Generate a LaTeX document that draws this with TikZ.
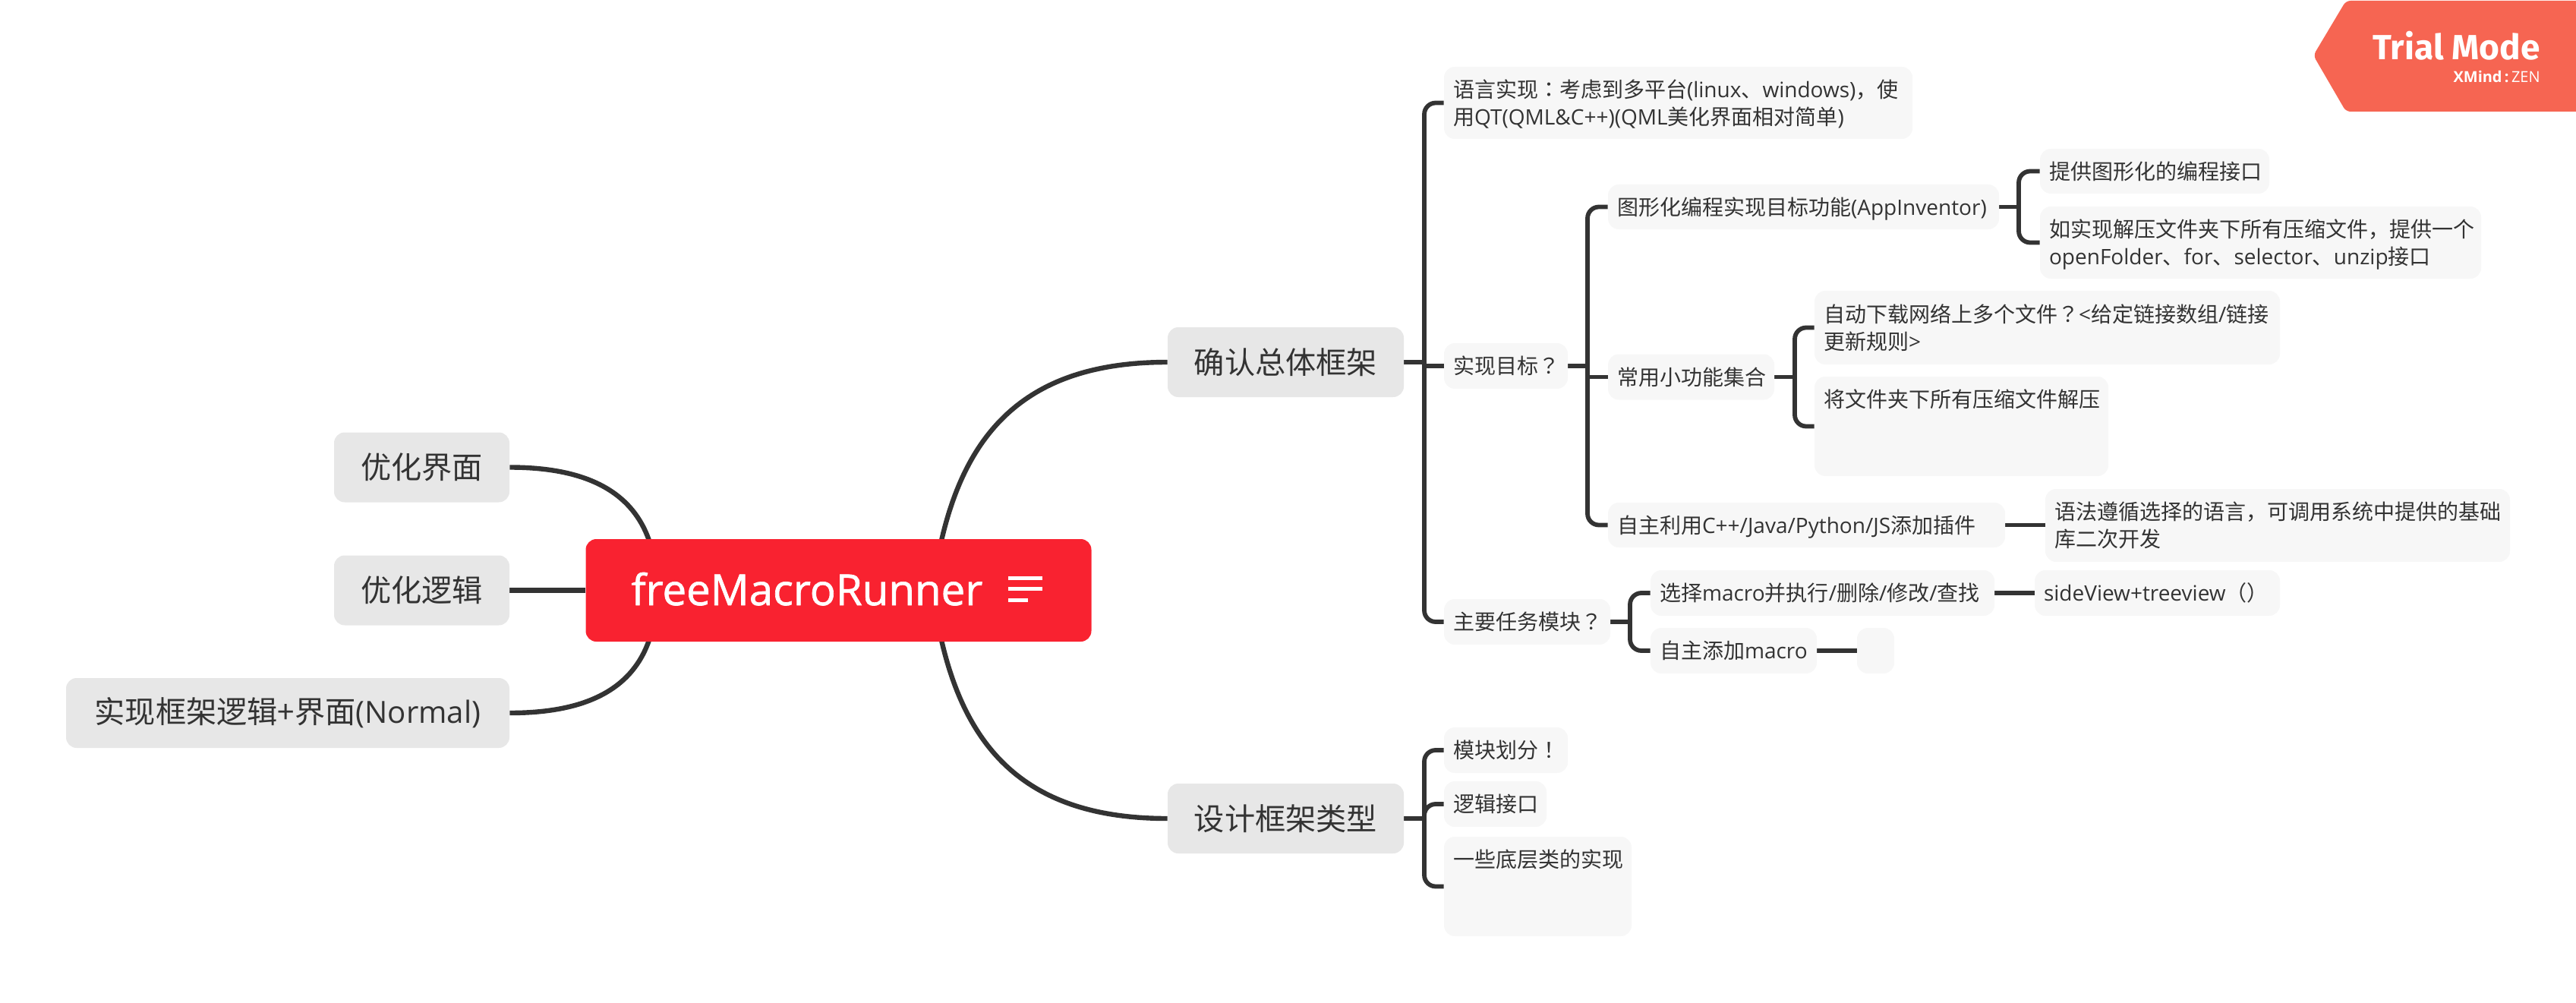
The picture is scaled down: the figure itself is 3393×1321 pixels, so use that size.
\documentclass[tikz,border=0pt]{standalone}
\usepackage{fontspec}
\usetikzlibrary{backgrounds}
\setmainfont{Noto Sans CJK SC}
\newfontfamily\la{Open Sans}
\newfontfamily\lam[FakeBold=1.2]{Open Sans}
\newfontfamily\tcf{Noto Sans CJK TC}
\newfontfamily\fira{Fira Sans}
\newcommand\lat[1]{{\la #1}}
\newcommand\tcp[1]{{\tcf #1}}
\newcommand\ts{\rule[-5.34pt]{0pt}{21.4pt}}
\definecolor{ink}{HTML}{333333}
\definecolor{subfill}{HTML}{F7F7F7}
\definecolor{topfill}{HTML}{E7E7E7}
\definecolor{redfill}{HTML}{F92230}
\definecolor{trialfill}{HTML}{F66552}
\hyphenpenalty=10000 \exhyphenpenalty=10000
\tikzset{
  subn/.style 2 args={fill=subfill,draw=none,rounded corners=7pt,inner sep=0pt,
    minimum width=#1*0.5pt,minimum height=#2*0.5pt,text width=#1*0.5pt-12pt,align=left,
    text=ink,font=\fontsize{14}{17.8}\selectfont},
  topn/.style 2 args={fill=topfill,draw=none,rounded corners=7pt,inner sep=0pt,
    minimum width=#1*0.5pt,minimum height=#2*0.5pt,text=ink,align=center,
    font=\fontsize{20.1}{24}\selectfont},
  cenn/.style={fill=redfill,draw=none,rounded corners=7pt,inner sep=0pt,
    minimum width=333pt,minimum height=67.5pt,text width=273pt,align=left,text=white,
    font=\lam\fontsize{28.2}{32}\selectfont},
  conn/.style={draw=ink,line width=2.9pt},
  curv/.style={draw=ink,line width=3.2pt},
  brk/.style={draw=ink,line width=2.9pt,rounded corners=7.5pt},
  bar/.style={fill=white,draw=none,inner sep=0pt,minimum height=2.3pt},
}
\begin{document}
\begin{tikzpicture}[x=0.5pt,y=-0.5pt]
\useasboundingbox (0,0) rectangle (3393,1321);
% central
\node[cenn] (c) at (1104.5,777.5) {\rule[-10pt]{0pt}{39.5pt}freeMacroRunner};
\node[bar,minimum width=22.5pt] (b1) at (1350,761.5) {};
\node[bar,minimum width=22.5pt] (b2) at (1350,775.5) {};
\node[bar,minimum width=13pt] (b3) at (1340.5,790.5) {};
% left topics
\node[topn={231}{92}] (l1) at (555.5,615.5) {优化界面};
\node[topn={231}{92}] (l2) at (555.5,777.5) {优化逻辑};
\node[topn={584}{92}] (l3) at (379,939) {实现框架逻辑+界面\lat{(Normal)}};
% right topics
\node[topn={311}{92}] (t1) at (1693.5,477) {确认总体框架};
\node[topn={311}{92}] (t2) at (1693.5,1078) {设计框架类型};
% subtopics
\node[subn={617}{95}] (a1) at (2210.5,135.5) {\ts 语言实现\tcp{：}考虑到多平台\lat{(linux}、\lat{windows)}，使\\用\lat{QT(QML\&C++)(QML}美化界面相对简单\lat{)}\strut};
\node[subn={163}{60}] (a2) at (1983.5,482) {\ts 实现目标\tcp{？}};
\node[subn={219}{60}] (a3) at (2011.5,819) {\ts 主要任务模块\tcp{？}};
\node[subn={515}{59}] (b1n) at (2375.5,272.5) {\ts 图形化编程实现目标功能\lat{(AppInventor)}};
\node[subn={219}{60}] (b2n) at (2227.5,496.5) {\ts 常用小功能集合};
\node[subn={523}{59}] (b3n) at (2379.5,691.5) {\ts 自主利用\lat{C++/Java/Python/JS}添加插件};
\node[subn={302}{59}] (d1) at (2838,225.5) {\ts 提供图形化的编程接口};
\node[subn={581}{95}] (d2) at (2977.5,319.5) {\ts 如实现解压文件夹下所有压缩文件，提供一个\\\lat{openFolder}、\lat{for}、\lat{selector}、\lat{unzip}接口\strut};
\node[subn={613}{97}] (e1) at (2696.5,431.5) {\ts 自动下载网络上多个文件\tcp{？}\lat{<}给定链接数组\lat{/}链接\\更新规则\lat{>}\strut};
\node[subn={387}{131}] (e2) at (2583.5,561.5) {\ts 将文件夹下所有压缩文件解压\\\strut\\\strut};
\node[subn={612}{96}] (f1) at (3000,692) {\ts 语法遵循选择的语言，可调用系统中提供的基础\\库二次开发\strut};
\node[subn={453}{60}] (g1) at (2400.5,781) {\ts 选择\lat{macro}并执行\lat{/}删除\lat{/}修改\lat{/}查找};
\node[subn={219}{60}] (g2) at (2283.5,857) {\ts 自主添加\lat{macro}};
\node[subn={323}{60}] (h1) at (2841.5,781) {\ts \lat{sideView+treeview}（）};
\node[subn={49}{60}] (h2) at (2470.5,857) {};
\node[subn={163}{60}] (k1) at (1983.5,988) {\ts 模块划分\tcp{！}};
\node[subn={135}{60}] (k2) at (1969.5,1059) {\ts 逻辑接口};
\node[subn={247}{131}] (k3) at (2025.5,1167.5) {\ts 一些底层类的实现\\\strut\\\strut};
% trial badge
\fill[trialfill,rounded corners=3pt] (3047,73) -- (3090,1) -- (3400,1) -- (3400,147) -- (3090,147) -- cycle;
\node[anchor=base east,inner sep=0pt,text=white,font=\fira\bfseries\fontsize{23}{30}\selectfont] (tm) at (3346,79) {Trial Mode};
\node[anchor=base east,inner sep=0pt,text=white,font=\fontsize{10}{12}\selectfont] (xm) at (3346,109) {{\la\bfseries XMind\,:}\,{\la ZEN}};
% connectors
\coordinate (cnw) at (1240,712);
\coordinate (csw) at (1240,843);
\coordinate (clu) at (855,712);
\coordinate (cld) at (855,843);
\coordinate (s1) at (1876,477);
\coordinate (s2) at (1876,1078);
\coordinate (s3) at (2091,482);
\coordinate (s4) at (2147,819);
\coordinate (s5) at (2659,272.5);
\coordinate (s6) at (2364,496.5);
\begin{scope}[on background layer]
\draw[curv] (l1.east) .. controls (760,615.5) and (830,640) .. (clu);
\draw[curv] (l3.east) .. controls (760,939) and (830,915) .. (cld);
\draw[conn,line width=3.8pt] (l2.east) -- (c.west);
\draw[curv] (cnw) .. controls (1275,560) and (1360,477) .. (t1.west);
\draw[curv] (csw) .. controls (1275,995) and (1360,1078) .. (t2.west);
\draw[conn] (t1.east) -- (s1);
\draw[brk] (a1.west) -| (s1) |- (a3.west);
\draw[conn] (s1 |- a2.west) -- (a2.west);
\draw[conn] (t2.east) -- (s2);
\draw[brk] (k1.west) -| (s2) |- (k3.west);
\draw[brk] (k2.west) -| (s2);
\draw[conn] (a2.east) -- (s3);
\draw[brk] (b1n.west) -| (s3) |- (b3n.west);
\draw[conn] (s3 |- b2n.west) -- (b2n.west);
\draw[conn] (b1n.east) -- (s5);
\draw[brk] (d1.west) -| (s5) |- (d2.west);
\draw[conn] (b2n.east) -- (s6);
\draw[brk] (e1.west) -| (s6) |- (e2.west);
\draw[conn] (b3n.east) -- (f1.west |- b3n.east);
\draw[conn] (a3.east) -- (s4);
\draw[brk] (g1.west) -| (s4) |- (g2.west);
\draw[conn] (g1.east) -- (h1.west);
\draw[conn] (g2.east) -- (h2.west);
\end{scope}
\end{tikzpicture}
\end{document}
